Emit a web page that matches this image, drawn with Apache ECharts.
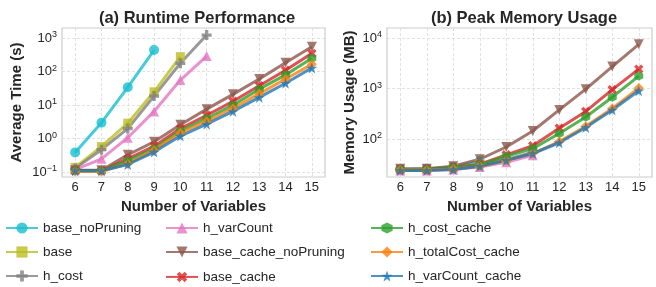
<!DOCTYPE html>
<html>
<head>
<meta charset="utf-8">
<script src="https://cdn.jsdelivr.net/npm/echarts@6/dist/echarts.min.js"></script>
<style>
html, body { margin: 0; padding: 0; background: #fff; }
#chart { width: 656px; height: 287px; }
</style>
</head>
<body>
<div id="chart"></div>
<script>
// number of variables
var nVars = ['6', '7', '8', '9', '10', '11', '12', '13', '14', '15'];

var names = ['base_noPruning', 'base', 'h_cost', 'h_varCount', 'base_cache_noPruning',
	'base_cache', 'h_cost_cache', 'h_totalCost_cache', 'h_varCount_cache'];

// (a) average time, seconds
var timeBaseNoPruning = [0.39, 3.0, 34, 440];
var timeBase = [0.14, 0.58, 2.9, 25, 280];
var timeHCost = [0.13, 0.47, 2.0, 18.6, 178, 1230];
var timeHVarCount = [0.12, 0.25, 1.07, 6.5, 56, 290];
var timeBaseCacheNoPruning = [0.115, 0.115, 0.33, 0.81, 2.6, 7.6, 21, 60, 183, 550];
var timeBaseCache = [0.11, 0.11, 0.25, 0.6, 2.0, 5.0, 13, 38, 110, 350];
var timeHCostCache = [0.11, 0.11, 0.22, 0.5, 1.7, 4.0, 10, 30, 80, 250];
var timeHTotalCostCache = [0.105, 0.105, 0.18, 0.45, 1.5, 3.3, 8, 22, 60, 165];
var timeHVarCountCache = [0.11, 0.11, 0.17, 0.4, 1.2, 2.7, 6.5, 17, 45, 128];

// (b) peak memory, MB
var memBaseNoPruning = [25, 26, 28, 37];
var memBase = [25, 25, 27, 32, 40];
var memHCost = [25, 25, 27, 31, 39, 55];
var memHVarCount = [24, 24, 25, 28, 35, 48];
var memBaseCacheNoPruning = [26, 26, 29, 40, 70, 145, 380, 980, 2750, 7600];
var memBaseCache = [25, 25, 27, 32, 49, 74, 165, 355, 960, 2450];
var memHCostCache = [25, 25, 27, 31, 46, 65, 130, 275, 680, 1780];
var memHTotalCostCache = [24.5, 24.5, 25.5, 29, 38, 52, 90, 180, 405, 1030];
var memHVarCountCache = [24, 24, 25, 29, 38, 52, 85, 170, 380, 910];

var timeData = [timeBaseNoPruning, timeBase, timeHCost, timeHVarCount, timeBaseCacheNoPruning,
	timeBaseCache, timeHCostCache, timeHTotalCostCache, timeHVarCountCache];
var memData = [memBaseNoPruning, memBase, memHCost, memHVarCount, memBaseCacheNoPruning,
	memBaseCache, memHCostCache, memHTotalCostCache, memHVarCountCache];

var colors = ['#17becf', '#bcbd22', '#7f7f7f', '#e377c2', '#8c564b', '#d62728', '#2ca02c', '#ff7f0e', '#1f77b4'];

var plusPath = 'path://M4,0h4v4h4v4h-4v4h-4v-4h-4v-4h4z';
var starPath = 'path://M50,0L61.8,35.5L99,35.5L69,57.4L80.4,93L50,71L19.6,93L31,57.4L1,35.5L38.2,35.5Z';
var hexPath = 'path://M50,0L93.3,25L93.3,75L50,100L6.7,75L6.7,25Z';
var symbols = ['circle', 'rect', plusPath, 'triangle', 'triangle', plusPath, hexPath, 'diamond', starPath];
var rotates = [0, 0, 0, 0, 180, 45, 0, 0, 0];
var sizes = [10, 9, 10, 10, 10, 10, 9, 10, 11];

var font = 'Liberation Sans, Arial, sans-serif';
var supMinus = '\u2212';

function logLabel(value) {
	var e = Math.round(Math.log10(value));
	var s = e < 0 ? supMinus + (-e) : '' + e;
	return '{b|10}{s|' + s + '}';
}

function xAxis(gridIndex) {
	return {
		type: 'category', gridIndex: gridIndex, data: nVars, boundaryGap: true,
		name: 'Number of Variables', nameLocation: 'middle', nameGap: 14,
		nameTextStyle: { fontFamily: font, fontSize: 15, fontWeight: 'bold', color: '#262626' },
		axisLine: { show: false }, axisTick: { show: false },
		axisLabel: { margin: 4, fontFamily: font, fontSize: 13, color: '#262626' },
		splitLine: { show: true, alignWithLabel: true, lineStyle: { color: '#d9d9d9', type: [3, 2], width: 0.8 } }
	};
}

function yAxis(gridIndex, name, min, max, gap) {
	return {
		type: 'log', logBase: 10, gridIndex: gridIndex, min: min, max: max,
		name: name, nameLocation: 'middle', nameGap: gap,
		nameTextStyle: { fontFamily: font, fontSize: 15, fontWeight: 'bold', color: '#262626' },
		axisLine: { show: false }, axisTick: { show: false },
		minorTick: { show: false },
		axisLabel: {
			margin: 5, showMinLabel: false, showMaxLabel: false, formatter: logLabel,
			rich: {
				b: { fontFamily: font, fontSize: 13, color: '#262626' },
				s: { fontFamily: font, fontSize: 9, color: '#262626', verticalAlign: 'top', padding: [0, 0, 7, 0] }
			}
		},
		splitLine: { show: true, showMinLine: false, showMaxLine: false, lineStyle: { color: '#d9d9d9', type: [3, 2], width: 0.8 } }
	};
}

var series = [];
function addSeries(data, axisIndex) {
	for (var i = 0; i < names.length; i++) {
		series.push({
			name: names[i], type: 'line', xAxisIndex: axisIndex, yAxisIndex: axisIndex,
			data: data[i], symbol: symbols[i], symbolRotate: rotates[i], symbolSize: sizes[i],
			color: colors[i],
			lineStyle: { width: 3, opacity: 0.8 },
			itemStyle: { opacity: 0.8 },
			animation: false
		});
	}
}
addSeries(timeData, 0);
addSeries(memData, 1);

function legend(left, items) {
	return {
		orient: 'vertical', left: left, top: 221, height: 65, padding: 0, data: items,
		itemWidth: 32, itemHeight: 14, itemGap: 10,
		textStyle: { fontFamily: font, fontSize: 13.5, color: '#262626' }
	};
}

var chart = echarts.init(document.getElementById('chart'));
chart.setOption({
	backgroundColor: '#fff',
	animation: false,
	title: [
		{ text: '(a) Runtime Performance', left: 192, top: 5, textAlign: 'center',
			textStyle: { fontFamily: font, fontSize: 16.5, fontWeight: 'bold', color: '#262626' } },
		{ text: '(b) Peak Memory Usage', left: 519, top: 5, textAlign: 'center',
			textStyle: { fontFamily: font, fontSize: 16.5, fontWeight: 'bold', color: '#262626' } }
	],
	grid: [
		{ left: 62, top: 28, width: 263, height: 149, show: true, borderColor: '#cccccc', borderWidth: 1.2 },
		{ left: 387, top: 28, width: 265, height: 149, show: true, borderColor: '#cccccc', borderWidth: 1.2 }
	],
	xAxis: [xAxis(0), xAxis(1)],
	yAxis: [
		yAxis(0, 'Average Time (s)', 0.072, 2000, 38),
		yAxis(1, 'Memory Usage (MB)', 17.8, 16000, 30)
	],
	legend: [
		legend(5, names.slice(0, 3)),
		legend(165, names.slice(3, 6)),
		legend(370, names.slice(6, 9))
	],
	series: series
});
</script>
</body>
</html>
